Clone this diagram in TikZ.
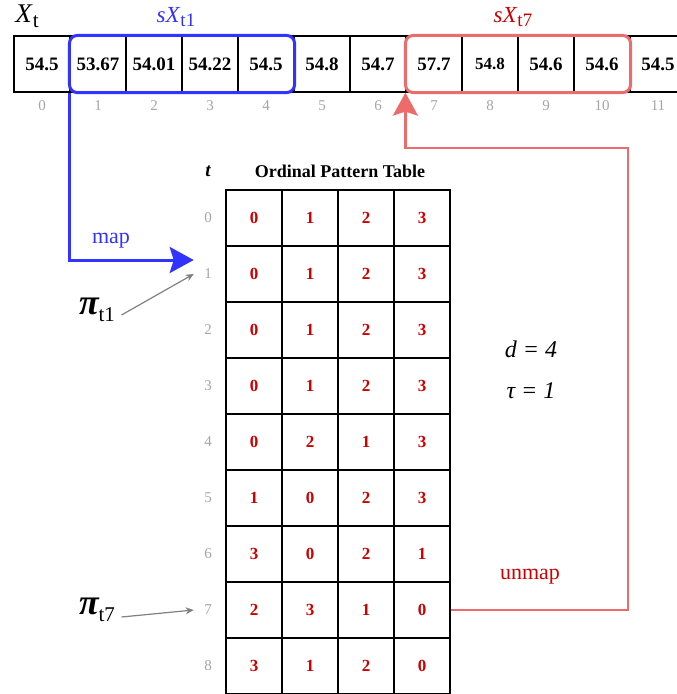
\documentclass[tikz,border=0pt]{standalone}
\usepackage{fontspec}
\setmainfont{Liberation Serif}
\usepackage{xcolor}
\usepackage{tikz}
\usetikzlibrary{arrows.meta, positioning}

\definecolor{mapblue}{RGB}{51,51,255}
\definecolor{unmapred}{RGB}{236,108,108}
\definecolor{patred}{RGB}{204,0,0}
\definecolor{idxgray}{RGB}{165,165,165}
\definecolor{ptrgray}{RGB}{128,128,128}

\newcommand{\fsz}[1]{\fontsize{#1}{#1}\selectfont}
\newcommand{\lowtxt}[2]{\raisebox{-0.2em}{\fsz{#1}\upshape #2}}

\begin{document}
\begin{tikzpicture}[
  x=1pt, y=-1pt,
  cell/.style={rectangle, draw=black, line width=1.2pt, minimum width=56pt, minimum height=56pt, inner sep=0pt, font=\fsz{19}\bfseries},
  patcell/.style={cell, text=patred, font=\fsz{17}\bfseries},
  idx/.style={text=idxgray, font=\fsz{15}},
  pilabel/.style={font=\fsz{36}\bfseries\itshape},
  param/.style={font=\fsz{24}\itshape},
  mapbox/.style={draw=mapblue, line width=3pt, rounded corners=8pt},
  unmapbox/.style={draw=unmapred, line width=3pt, rounded corners=8pt},
  maparrow/.style={draw=mapblue, line width=3pt, -{Stealth[length=24pt, width=26pt, inset=4pt]}},
  unmaparrow/.style={draw=unmapred, line width=2.6pt, -{Stealth[length=23pt, width=25pt, inset=4pt]}},
  ptr/.style={draw=ptrgray, line width=1.2pt, -{Stealth[length=8pt, width=7pt]}}
]
\clip (0,0) rectangle (677,694);

% Time series
\node (xt) [font=\fsz{27}] at (27,16) {\textit{X}\lowtxt{21}{t}};
\foreach \v [count=\i from 0] in {54.5, 53.67, 54.01, 54.22, 54.5, 54.8, 54.7, 57.7, {\fsz{17}54.8}, 54.6, 54.6, 54.5} {
  \node (c\i) [cell] at (42+56*\i, 64) {\v};
  \node (n\i) [idx] at (42+56*\i, 106) {\i};
}

% Windows
\draw [mapbox] (c1.north west) rectangle (c4.south east);
\draw [unmapbox] (c7.north west) rectangle (c10.south east);
\node (sx1) [text=mapblue, font=\fsz{23}] at (176,17) {\textit{sX}\lowtxt{19}{t1}};
\node (sx7) [text=patred, font=\fsz{23}] at (513,17) {\textit{sX}\lowtxt{19}{t7}};

% Ordinal Pattern Table
\node (thead) [font=\fsz{19}\bfseries\itshape] at (208,171) {t};
\node (title) [font=\fsz{18}\bfseries] at (340,171) {Ordinal Pattern Table};
\foreach \row [count=\r from 0] in {{0,1,2,3},{0,1,2,3},{0,1,2,3},{0,1,2,3},{0,2,1,3},{1,0,2,3},{3,0,2,1},{2,3,1,0},{3,1,2,0}} {
  \node (t\r) [idx] at (208, 218+56*\r) {\r};
  \foreach \v [count=\c from 0] in \row {
    \node (p\r-\c) [patcell] at (254+56*\c, 218+56*\r) {\v};
  }
}

% Parameters
\node (dim) [param] at (531,349) {d = 4};
\node (lag) [param] at (531,391) {τ = 1};

% Patterns
\node (pi1) [pilabel] at (97,310) {π\lowtxt{21}{\mdseries t1}};
\node (pi7) [pilabel] at (97,610) {π\lowtxt{21}{\mdseries t7}};
\draw [ptr] ([xshift=3pt, yshift=-5pt]pi1.east) -- ([xshift=-7pt]t1.west);
\draw [ptr] ([xshift=3pt, yshift=-7pt]pi7.east) -- ([xshift=-7pt]t7.west);

% Map / unmap
\draw [maparrow] (c1.south west) |- ([xshift=-7pt, yshift=14pt]t1.west);
\node (maplbl) [text=mapblue, font=\fsz{22}] at (111,241) {map};
\coordinate (ucorner) at (628,148);
\draw [unmaparrow] (p7-3.east) -| (ucorner) -| (c7.south west);
\node (unmaplbl) [text=patred, font=\fsz{22}] at (530,577) {unmap};
\end{tikzpicture}
\end{document}
